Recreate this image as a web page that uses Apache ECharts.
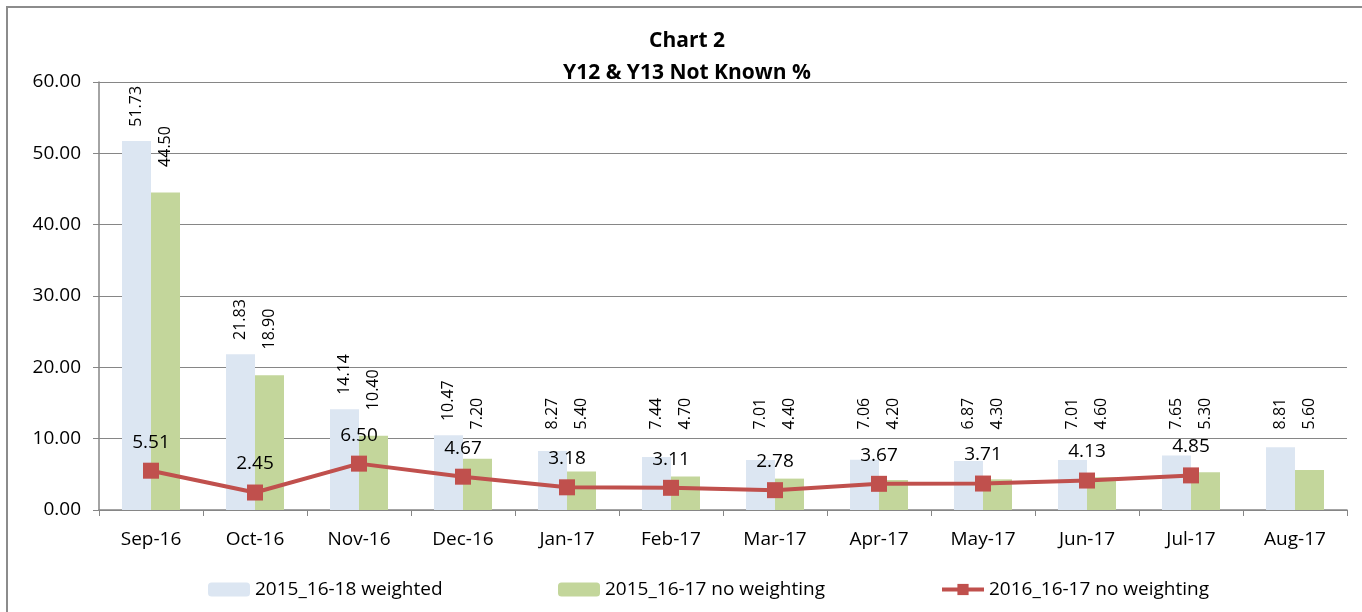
<!DOCTYPE html>
<html>
<head>
<meta charset="utf-8">
<script src="https://cdn.jsdelivr.net/npm/echarts@6/dist/echarts.min.js"></script>
<style>
html, body { margin: 0; padding: 0; background: #fff; }
#chart { width: 1362px; height: 612px; }
</style>
</head>
<body>
<div id="chart"></div>
<script>
var months = ['Sep-16', 'Oct-16', 'Nov-16', 'Dec-16', 'Jan-17', 'Feb-17', 'Mar-17', 'Apr-17', 'May-17', 'Jun-17', 'Jul-17', 'Aug-17'];
var weighted = [51.73, 21.83, 14.14, 10.47, 8.27, 7.44, 7.01, 7.06, 6.87, 7.01, 7.65, 8.81];
var noWeighting = [44.50, 18.90, 10.40, 7.20, 5.40, 4.70, 4.40, 4.20, 4.30, 4.60, 5.30, 5.60];
var current = [5.51, 2.45, 6.50, 4.67, 3.18, 3.11, 2.78, 3.67, 3.71, 4.13, 4.85, null];
var names = ['2015_16-18 weighted', '2015_16-17 no weighting', '2016_16-17 no weighting'];

var font = 'Open Sans, Liberation Sans, sans-serif';
var chart = echarts.init(document.getElementById('chart'));

function fmt(p) { return Number(p.value).toFixed(2); }

// rotated bar labels, lifted clear of the line labels like the original
function labelSeries(values, pad, dx) {
    return {
        type: 'custom',
        name: 'labels' + dx,
        silent: true,
        z: 6,
        data: values.map(function (v, i) { return [i, v]; }),
        renderItem: function (params, api) {
            var v = api.value(1);
            var pt = api.coord([api.value(0), Math.max(v + pad, 11.3)]);
            return {
                type: 'text',
                x: pt[0] + dx,
                y: pt[1],
                rotation: Math.PI / 2,
                style: {
                    text: v.toFixed(2),
                    fill: '#000',
                    font: '16px ' + font,
                    align: 'left',
                    verticalAlign: 'middle'
                }
            };
        }
    };
}

function legendAt(x, name) {
    return {
        left: x,
        top: 575,
        itemWidth: 42,
        itemHeight: 14,
        data: [name],
        lineStyle: { width: 4 },
        textStyle: { fontSize: 19, color: '#000', fontFamily: font }
    };
}

var option = {
    animation: false,
    title: {
        text: 'Chart 2\nY12 & Y13 Not Known %',
        left: 682,
        top: 20,
        textAlign: 'center',
        textStyle: { fontSize: 21, fontWeight: 'bold', color: '#000', fontFamily: font, lineHeight: 32 }
    },
    graphic: [{
        type: 'rect',
        shape: { x: 7, y: 7, width: 1400, height: 700 },
        style: { fill: 'none', stroke: '#8c8c8c', lineWidth: 2 },
        silent: true
    }],
    legend: [
        legendAt(203, names[0]),
        legendAt(553, names[1]),
        legendAt(935, names[2])
    ],
    grid: { left: 99, right: 15, top: 82, bottom: 102 },
    xAxis: {
        type: 'category',
        data: months,
        axisLine: { lineStyle: { color: '#868686', width: 1.5 } },
        axisTick: { show: true, length: 6, lineStyle: { color: '#868686' } },
        axisLabel: { fontSize: 19, color: '#000', fontFamily: font, margin: 20 }
    },
    yAxis: {
        type: 'value',
        min: 0,
        max: 60,
        interval: 10,
        axisLine: { show: true, lineStyle: { color: '#868686', width: 1.5 } },
        axisTick: { show: true, length: 6, inside: false, lineStyle: { color: '#868686' } },
        splitLine: { lineStyle: { color: '#868686', width: 1 } },
        axisLabel: { fontSize: 19, color: '#000', fontFamily: font, margin: 18, formatter: function (v) { return v.toFixed(2); } }
    },
    series: [{
        name: names[0],
        type: 'bar',
        data: weighted,
        barWidth: 29,
        barGap: '0%',
        itemStyle: { color: '#DCE6F2' }
    }, {
        name: names[1],
        type: 'bar',
        data: noWeighting,
        barWidth: 29,
        barGap: '0%',
        itemStyle: { color: '#C3D69B' }
    }, {
        name: names[2],
        type: 'line',
        data: current,
        symbol: 'rect',
        symbolSize: 16,
        z: 5,
        lineStyle: { color: '#C0504D', width: 4 },
        itemStyle: { color: '#C0504D' },
        label: {
            show: true,
            position: 'top',
            distance: 11,
            fontSize: 19,
            color: '#000',
            fontFamily: font,
            formatter: fmt
        }
    },
    labelSeries(weighted, 2.0, -14.5),
    labelSeries(noWeighting, 3.6, 14.5)]
};
chart.setOption(option);
</script>
</body>
</html>
